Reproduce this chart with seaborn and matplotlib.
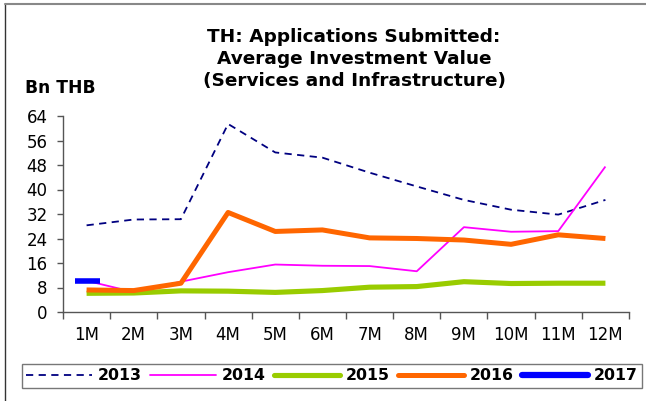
import matplotlib
matplotlib.use("Agg")
import matplotlib.pyplot as plt
from matplotlib.lines import Line2D
import seaborn as sns
import pandas as pd
import numpy as np

months = ["1M", "2M", "3M", "4M", "5M", "6M", "7M", "8M", "9M", "10M", "11M", "12M"]
y2013 = [28.3, 30.2, 30.3, 61.4, 52.1, 50.4, 45.5, 41.0, 36.6, 33.4, 31.8, 36.6]
y2014 = [10.2, 6.5, 9.9, 13.0, 15.5, 15.1, 15.0, 13.3, 27.7, 26.2, 26.4, 47.5]
y2015 = [6.1, 6.2, 6.9, 6.8, 6.4, 7.0, 8.1, 8.3, 9.9, 9.3, 9.4, 9.4]
y2016 = [7.2, 7.0, 9.4, 32.5, 26.3, 26.8, 24.2, 24.0, 23.5, 22.1, 25.2, 24.0]
y2017 = [10.2]
yticks = [0, 8, 16, 24, 32, 40, 48, 56, 64]

sns.set_theme(style="white")
plt.rcParams["font.family"] = ["DejaVu Sans"]
plt.rcParams["text.color"] = "black"
plt.rcParams["xtick.color"] = "black"
plt.rcParams["ytick.color"] = "black"
plt.rcParams["xtick.labelcolor"] = "black"
plt.rcParams["ytick.labelcolor"] = "black"

fig = plt.figure(figsize=(6.46, 4.01), dpi=100)
ax = fig.add_axes([63/646, 1-312/401, (629-63)/646, (312-116)/401])

pos = np.arange(len(months))
styles = [
    ("2013", y2013, "#000080", 1.3, (0, (4, 3))),
    ("2014", y2014, "#FF00FF", 1.3, "-"),
    ("2015", y2015, "#99CC00", 3.7, "-"),
    ("2016", y2016, "#FF6600", 3.6, "-"),
]
handles = []
for name, vals, col, lw, ls in styles:
    df = pd.DataFrame({"x": pos[:len(vals)], "y": vals})
    sns.lineplot(data=df, x="x", y="y", ax=ax, color=col, linewidth=lw,
                 linestyle=ls, solid_capstyle="butt")
    handles.append(Line2D([], [], color=col, lw=lw, linestyle=ls,
                          solid_capstyle="round", dash_capstyle="butt"))

df17 = pd.DataFrame({"x": pos[:len(y2017)], "y": y2017})
sns.lineplot(data=df17, x="x", y="y", ax=ax, color="#0000FF", marker="_",
             markersize=18, markeredgewidth=4.0, markeredgecolor="#0000FF",
             linewidth=0)
handles.append(Line2D([], [], color="#0000FF", lw=4.5, solid_capstyle="round"))

ax.set_xlim(-0.5, len(months) - 0.5)
ax.set_ylim(0, 64)
ax.set_yticks(yticks)
ax.set_yticklabels([str(v) for v in yticks], fontsize=12, color="black")
ax.set_xticks(pos)
ax.set_xticklabels(months, fontsize=12, color="black")
ax.set_xticks(np.arange(-0.5, len(months)), minor=True)
ax.tick_params(axis="x", which="major", length=0, pad=10)
ax.tick_params(axis="x", which="minor", length=5, width=1, color="#555555", direction="out", bottom=True)
ax.tick_params(axis="y", which="major", length=4, width=1, color="#555555", direction="out", left=True, pad=7)
ax.set_xlabel("")
ax.set_ylabel("")
for s in ["top", "right"]:
    ax.spines[s].set_visible(False)
for s in ["left", "bottom"]:
    ax.spines[s].set_color("#555555")
    ax.spines[s].set_linewidth(1)

for txt, base in [("TH: Applications Submitted:", 42),
                  ("Average Investment Value", 64),
                  ("(Services and Infrastructure)", 86)]:
    fig.text(0.548, 1-base/401, txt, ha="center", va="baseline",
             fontsize=13.3, fontweight="bold", color="black")
fig.text(25/646, 1-93/401, "Bn THB", ha="left", va="baseline", fontsize=12.3,
         fontweight="bold", color="black")

leg = fig.legend(handles, ["2013", "2014", "2015", "2016", "2017"], ncol=5,
                 loc="center", bbox_to_anchor=(332/646, 1-376/401),
                 frameon=True, fancybox=False, edgecolor="#555555",
                 prop={"weight": "bold", "size": 11.3}, handlelength=4.2,
                 handletextpad=0.35, columnspacing=0.55, borderpad=0.3)
leg.get_frame().set_linewidth(1)
for t in leg.get_texts():
    t.set_color("black")

fig.add_artist(Line2D([5/646, 5/646], [0, 1-4/401], color="#333333", lw=1, transform=fig.transFigure))
fig.add_artist(Line2D([5/646, 1], [1-4/401, 1-4/401], color="#888888", lw=1.5, transform=fig.transFigure))

fig.savefig("out.png", dpi=100)
